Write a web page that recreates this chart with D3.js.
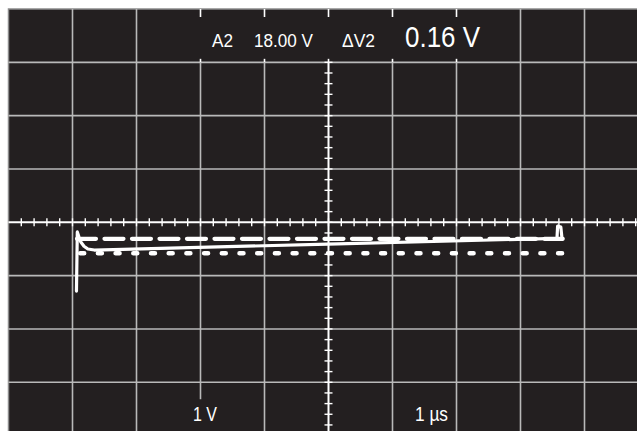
<!DOCTYPE html>
<html>
<head>
<meta charset="utf-8">
<script src="https://cdn.jsdelivr.net/npm/d3@7"></script>
<style>
  html, body { margin: 0; padding: 0; background: #ffffff; }
  svg { display: block; }
</style>
</head>
<body>
<div id="chart"></div>
<script>
// ---- data (time in µs across the screen, volts relative to centre line, 1 V/div) ----
const timeDivs = [0, 1, 2, 3, 4, 5, 6, 7, 8, 9, 10];
const voltDivs = [-4, -3, -2, -1, 0, 1, 2, 3, 4];

const solidT = [1.062, 1.075, 1.10, 1.13, 1.18, 1.24, 1.34, 4.99, 8.57, 8.58, 8.63, 8.65];
const solidV = [-1.29, -0.18, -0.27, -0.37, -0.45, -0.50, -0.52, -0.41, -0.30, -0.07, -0.09, -0.32];

const dashedT = [1.07, 8.66];
const dashedV = [-0.31, -0.31];

const dottedT = [1.12, 8.66];
const dottedV = [-0.58, -0.58];

const readoutLabels = ["A2", "18.00 V", "\u0394V2", "0.16 V"];
const scaleLabels = ["1 V", "1 \u00b5s"];

// ---- drawing ----
const W = 637, H = 431;
const svg = d3.select("#chart").append("svg").attr("width", W).attr("height", H);

const x = d3.scaleLinear().domain([0, 10]).range([8.5, 648.5]);
const y = d3.scaleLinear().domain([-4, 4]).range([435.6, 9]);

const bg = "#231f20", gridCol = "#b9b9b9";

svg.append("rect")
  .attr("x", x(0)).attr("y", y(4))
  .attr("width", x(10) - x(0)).attr("height", y(-4) - y(4))
  .attr("fill", bg).attr("stroke", "#8c8c8c").attr("stroke-width", 1.5);

const g = svg.append("g");

// horizontal grid lines
g.selectAll("line.h").data(voltDivs.filter(v => v > -4 && v < 4)).enter().append("line")
  .attr("x1", x(0)).attr("x2", x(10))
  .attr("y1", d => y(d)).attr("y2", d => y(d))
  .attr("stroke", d => d === 0 ? "#ffffff" : gridCol)
  .attr("stroke-width", d => d === 0 ? 2 : 1.6);

// vertical grid lines
const interruptedTop = [3, 4, 5, 6, 7];
timeDivs.filter(t => t > 0 && t < 10).forEach(t => {
  const col = t === 5 ? "#ffffff" : gridCol;
  const sw = t === 5 ? 2 : 1.6;
  let yTop = y(4), yBot = y(-4);
  if (interruptedTop.includes(t)) {
    yTop = y(3);
    g.append("line").attr("x1", x(t)).attr("x2", x(t)).attr("y1", y(4)).attr("y2", y(4) + 8)
      .attr("stroke", "#ffffff").attr("stroke-width", 1.6);
    g.append("line").attr("x1", x(t)).attr("x2", x(t)).attr("y1", y(3) - 3.5).attr("y2", y(3))
      .attr("stroke", "#ffffff").attr("stroke-width", 1.6);
  }
  if (t === 3) {
    // bottom row interrupted by the "1 V" label
    g.append("line").attr("x1", x(t)).attr("x2", x(t)).attr("y1", yTop).attr("y2", y(-3) + 17)
      .attr("stroke", col).attr("stroke-width", sw);
  } else {
    g.append("line").attr("x1", x(t)).attr("x2", x(t)).attr("y1", yTop).attr("y2", yBot)
      .attr("stroke", col).attr("stroke-width", sw);
  }
});

// minor ticks on the centre horizontal line
g.selectAll("line.mx").data(d3.range(1, 50)).enter().append("line")
  .attr("x1", d => x(d / 5)).attr("x2", d => x(d / 5))
  .attr("y1", y(0) - 4).attr("y2", y(0) + 4)
  .attr("stroke", "#ffffff").attr("stroke-width", 1.4);

// minor ticks on the centre vertical line (not in the top row)
g.selectAll("line.my").data(d3.range(-20, 16)).enter().append("line")
  .attr("x1", x(5) - 4).attr("x2", x(5) + 4)
  .attr("y1", d => y(d / 5)).attr("y2", d => y(d / 5))
  .attr("stroke", "#ffffff").attr("stroke-width", 1.4);

// traces
const line = d3.line().x(d => x(d[0])).y(d => y(d[1]));
const zip = (a, b) => a.map((v, i) => [v, b[i]]);

g.append("path").datum(zip(dottedT, dottedV)).attr("d", line)
  .attr("fill", "none").attr("stroke", "#ffffff").attr("stroke-width", 4.5)
  .attr("stroke-linecap", "round").attr("stroke-dasharray", "4 13.7");

g.append("path").datum(zip(dashedT, dashedV)).attr("d", line)
  .attr("fill", "none").attr("stroke", "#ffffff").attr("stroke-width", 4.2)
  .attr("stroke-linecap", "round").attr("stroke-dasharray", "19 8.5");

g.append("path").datum(zip(solidT, solidV)).attr("d", line)
  .attr("fill", "none").attr("stroke", "#ffffff").attr("stroke-width", 3.2)
  .attr("stroke-linejoin", "round").attr("stroke-linecap", "round");

// texts
const font = "'Liberation Sans', Arial, Helvetica, sans-serif";
const readPos = [
  { x: 212, w: 21, fs: 18.5 },
  { x: 254, w: 59, fs: 18.5 },
  { x: 342, w: 33, fs: 18.5 },
  { x: 405, w: 75, fs: 30 }
];
svg.selectAll("text.r").data(readoutLabels).enter().append("text")
  .attr("x", (d, i) => readPos[i].x).attr("y", 47)
  .attr("font-family", font).attr("font-size", (d, i) => readPos[i].fs)
  .attr("textLength", (d, i) => readPos[i].w).attr("lengthAdjust", "spacingAndGlyphs")
  .attr("fill", "#ffffff").text(d => d);

const scalePos = [{ x: 193, w: 24 }, { x: 415, w: 33 }];
svg.selectAll("text.s").data(scaleLabels).enter().append("text")
  .attr("x", (d, i) => scalePos[i].x).attr("y", 421)
  .attr("font-family", font).attr("font-size", 19.5)
  .attr("textLength", (d, i) => scalePos[i].w).attr("lengthAdjust", "spacingAndGlyphs")
  .attr("fill", "#ffffff").text(d => d);
</script>
</body>
</html>
